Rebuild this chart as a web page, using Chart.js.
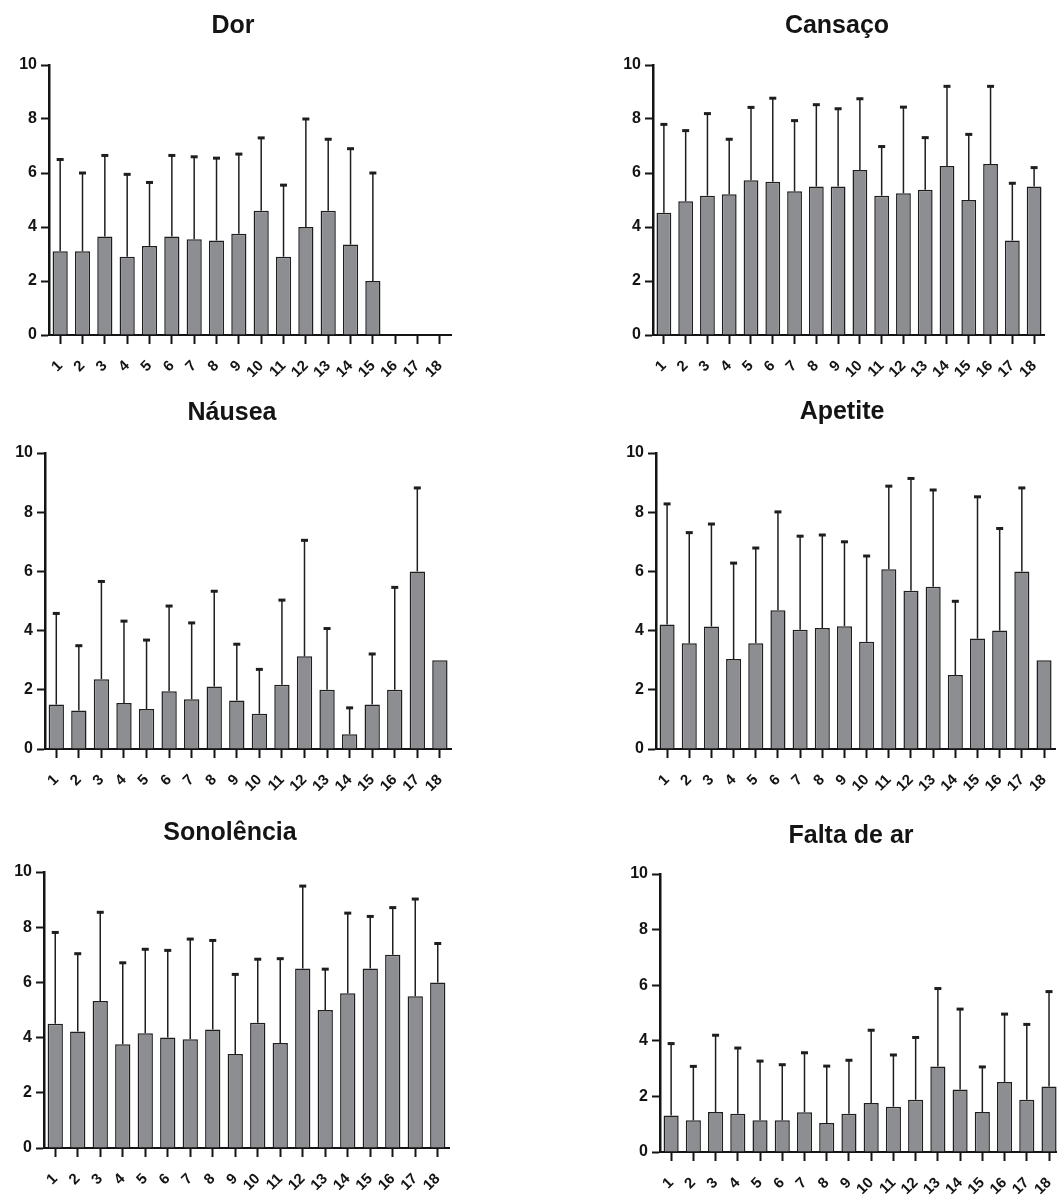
<!DOCTYPE html>
<html>
<head>
<meta charset="utf-8">
<script src="https://cdn.jsdelivr.net/npm/chart.js@4.4.1/dist/chart.umd.min.js"></script>
<style>
  html, body { margin: 0; padding: 0; background: #fff; overflow: hidden; width: 1057px; height: 1196px; position: relative; }
  canvas { position: absolute; }
</style>
</head>
<body>
<canvas id="dor"></canvas>
<canvas id="cansaco"></canvas>
<canvas id="nausea"></canvas>
<canvas id="apetite"></canvas>
<canvas id="sonolencia"></canvas>
<canvas id="faltaAr"></canvas>
<script>
// Questionnaire items 1..18
const categories = ['1','2','3','4','5','6','7','8','9','10','11','12','13','14','15','16','17','18'];
const yTicks = [0, 2, 4, 6, 8, 10];

// Mean score per item and standard deviation (upper error bar)
const dorMean = [3.1, 3.1, 3.65, 2.9, 3.3, 3.65, 3.55, 3.5, 3.75, 4.6, 2.9, 4.0, 4.6, 3.35, 2.0, 0, 0, 0];
const dorSD   = [3.4, 2.9, 3.0, 3.05, 2.35, 3.0, 3.05, 3.05, 2.95, 2.7, 2.65, 4.0, 2.65, 3.55, 4.0, 0, 0, 0];

const cansacoMean = [4.53, 4.95, 5.16, 5.21, 5.73, 5.68, 5.32, 5.5, 5.5, 6.11, 5.16, 5.25, 5.38, 6.26, 5.0, 6.33, 3.5, 5.5];
const cansacoSD   = [3.27, 2.62, 3.04, 2.04, 2.7, 3.09, 2.62, 3.03, 2.88, 2.64, 1.82, 3.19, 1.93, 2.95, 2.43, 2.88, 2.12, 0.7];

const nauseaMean = [1.5, 1.3, 2.36, 1.55, 1.35, 1.95, 1.68, 2.11, 1.64, 1.19, 2.17, 3.13, 2.0, 0.5, 1.5, 2.0, 6.0, 3.0];
const nauseaSD   = [3.08, 2.19, 3.3, 2.77, 2.33, 2.88, 2.58, 3.22, 1.9, 1.5, 2.86, 3.92, 2.07, 0.89, 1.71, 3.46, 2.82, 0];

const apetiteMean = [4.21, 3.57, 4.14, 3.04, 3.57, 4.69, 4.03, 4.09, 4.15, 3.62, 6.07, 5.35, 5.48, 2.5, 3.73, 4.0, 6.0, 3.0];
const apetiteSD   = [4.07, 3.74, 3.46, 3.24, 3.22, 3.32, 3.16, 3.14, 2.85, 2.9, 2.81, 3.79, 3.27, 2.49, 4.79, 3.45, 2.82, 0];

const sonolenciaMean = [4.5, 4.22, 5.33, 3.76, 4.16, 4.0, 3.94, 4.29, 3.41, 4.54, 3.8, 6.5, 5.0, 5.61, 6.5, 7.0, 5.5, 6.0];
const sonolenciaSD   = [3.31, 2.82, 3.21, 2.95, 3.04, 3.16, 3.63, 3.23, 2.88, 2.3, 3.06, 2.99, 1.48, 2.9, 1.89, 1.71, 3.52, 1.41];

const faltaArMean = [1.31, 1.14, 1.44, 1.38, 1.14, 1.14, 1.43, 1.04, 1.38, 1.76, 1.63, 1.88, 3.08, 2.25, 1.44, 2.52, 1.88, 2.36];
const faltaArSD   = [2.59, 1.94, 2.76, 2.36, 2.13, 2.0, 2.14, 2.05, 1.92, 2.62, 1.86, 2.24, 2.8, 2.89, 1.62, 2.44, 2.71, 3.41];

const FONT = '"Liberation Sans", Arial, Helvetica, sans-serif';
const INK = '#141414';
const TITLE_SIZE = 25;
const MIN_Y_AXIS_WIDTH = 36;

// Placement of each panel on the page: canvas box, plot area edges, title centre
const panels = [
  { id: 'dor',        title: 'Dor',         mean: dorMean,        sd: dorSD,        box: [0, 0, 466, 400],     area: [49, 452, 65, 335],    titleAt: [233, 26] },
  { id: 'cansaco',    title: 'Cansaço',     mean: cansacoMean,    sd: cansacoSD,    box: [560, 0, 500, 400],   area: [653, 1054, 65, 335],  titleAt: [837, 26] },
  { id: 'nausea',     title: 'Náusea',      mean: nauseaMean,     sd: nauseaSD,     box: [0, 390, 466, 420],   area: [45, 452, 453, 749],   titleAt: [232, 413] },
  { id: 'apetite',    title: 'Apetite',     mean: apetiteMean,    sd: apetiteSD,    box: [560, 390, 510, 420], area: [656, 1061, 453, 749], titleAt: [842, 412] },
  { id: 'sonolencia', title: 'Sonolência',  mean: sonolenciaMean, sd: sonolenciaSD, box: [0, 800, 466, 396],   area: [44, 449, 872, 1148],  titleAt: [230, 833] },
  { id: 'faltaAr',    title: 'Falta de ar', mean: faltaArMean,    sd: faltaArSD,    box: [560, 800, 515, 396], area: [660, 1066, 874, 1152], titleAt: [851, 836] }
];

// Upper-only error bars (mean + SD) with a short heavy cap
function makeErrorBars(sd) {
  return {
    id: 'errorBars',
    afterDatasetsDraw(chart) {
      const ctx = chart.ctx;
      const yScale = chart.scales.y;
      const values = chart.data.datasets[0].data;
      chart.getDatasetMeta(0).data.forEach((bar, i) => {
        if (!sd[i]) return;
        const top = yScale.getPixelForValue(values[i] + sd[i]);
        ctx.save();
        ctx.strokeStyle = '#1e1e1e';
        ctx.lineWidth = 1.5;
        ctx.beginPath();
        ctx.moveTo(bar.x, bar.y);
        ctx.lineTo(bar.x, top);
        ctx.stroke();
        ctx.lineWidth = 3;
        ctx.beginPath();
        ctx.moveTo(bar.x - 3.5, top);
        ctx.lineTo(bar.x + 3.5, top);
        ctx.stroke();
        ctx.restore();
      });
    }
  };
}

panels.forEach(p => {
  const [left, top, width, height] = p.box;
  const [aL, aR, aT, aB] = p.area;
  const [tX, tY] = p.titleAt;

  const canvas = document.getElementById(p.id);
  canvas.width = width;
  canvas.height = height;
  canvas.style.left = left + 'px';
  canvas.style.top = top + 'px';
  canvas.style.width = width + 'px';
  canvas.style.height = height + 'px';

  // The full-width title is centred between the outer paddings; an empty
  // right-hand box keeps that centre where wanted when the left axis needs room.
  const natural = aL + aR - 2 * tX;
  const yAxisWidth = Math.max(MIN_Y_AXIS_WIDTH, natural);
  const spacerWidth = yAxisWidth - natural;
  const padLeft = aL - left - yAxisWidth;
  const padRight = left + width - aR - spacerWidth;
  const padTop = tY - top - TITLE_SIZE / 2;
  const titleGap = aT - top - padTop - TITLE_SIZE;
  const xAxisHeight = top + height - aB;

  const scales = {
    x: {
      offset: true,
      grid: { display: true, drawOnChartArea: false, offset: false, tickLength: 9, tickWidth: 2, tickColor: INK },
      border: { display: true, color: INK, width: 2 },
      ticks: {
        autoSkip: false, minRotation: 45, maxRotation: 45, padding: 13,
        color: INK, font: { family: FONT, size: 15, weight: 'bold' }
      },
      afterFit: s => { s.height = xAxisHeight; }
    },
    y: {
      min: yTicks[0],
      max: yTicks[yTicks.length - 1],
      afterBuildTicks: s => { s.ticks = yTicks.map(v => ({ value: v })); },
      ticks: { color: INK, padding: 4, font: { family: FONT, size: 16, weight: 'bold' } },
      grid: { display: true, drawOnChartArea: false, tickLength: 8, tickWidth: 2, tickColor: INK },
      border: { display: true, color: INK, width: 2.5 },
      afterFit: s => { s.width = yAxisWidth; }
    }
  };
  if (spacerWidth > 0) {
    scales.spacer = {
      type: 'linear', position: 'right', display: true,
      grid: { display: false }, border: { display: false }, ticks: { display: false },
      afterFit: s => { s.width = spacerWidth; }
    };
  }

  new Chart(canvas, {
    type: 'bar',
    data: {
      labels: categories,
      datasets: [{
        data: p.mean,
        backgroundColor: '#8d8e92',
        borderColor: '#1e1e1e',
        borderWidth: 1.5,
        barPercentage: 0.68,
        categoryPercentage: 1
      }]
    },
    options: {
      responsive: false,
      animation: false,
      devicePixelRatio: 1,
      layout: { padding: { left: padLeft, right: padRight, top: padTop, bottom: 0 } },
      plugins: {
        legend: { display: false },
        tooltip: { enabled: false },
        title: {
          display: true,
          text: p.title,
          color: INK,
          font: { family: FONT, size: TITLE_SIZE, weight: 'bold', lineHeight: 1 },
          padding: { top: 0, bottom: titleGap }
        }
      },
      scales
    },
    plugins: [makeErrorBars(p.sd)]
  });
});
</script>
</body>
</html>
